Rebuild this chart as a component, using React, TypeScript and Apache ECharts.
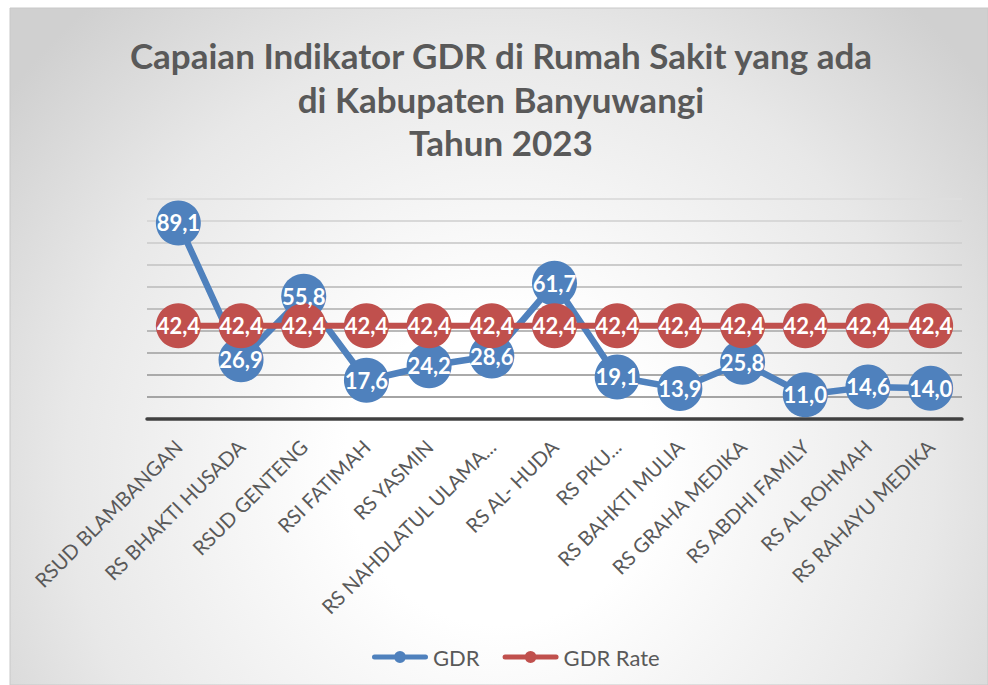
import React, { useEffect, useRef } from "react";
import * as echarts from "echarts";

const categories = [
  "RSUD BLAMBANGAN",
  "RS BHAKTI HUSADA",
  "RSUD GENTENG",
  "RSI FATIMAH",
  "RS YASMIN",
  "RS NAHDLATUL ULAMA...",
  "RS AL- HUDA",
  "RS PKU...",
  "RS BAHKTI MULIA",
  "RS GRAHA MEDIKA",
  "RS ABDHI FAMILY",
  "RS AL ROHMAH",
  "RS RAHAYU MEDIKA",
];
const gdr = [89.1, 26.9, 55.8, 17.6, 24.2, 28.6, 61.7, 19.1, 13.9, 25.8, 11.0, 14.6, 14.0];
const gdrRate = [42.4, 42.4, 42.4, 42.4, 42.4, 42.4, 42.4, 42.4, 42.4, 42.4, 42.4, 42.4, 42.4];
const titleLines = ["Capaian Indikator GDR di Rumah Sakit yang ada", "di Kabupaten Banyuwangi", "Tahun 2023"];

const FONT = "Lato, 'Open Sans', sans-serif";
const fmt = (p: any) => Number(p.value).toFixed(1).replace(".", ",");
const LEGEND_ICON =
  "path://M2.5,3.5 L53.5,3.5 A2.5,2.5 0 0,1 53.5,8.5 L2.5,8.5 A2.5,2.5 0 0,1 2.5,3.5 Z M22,6 A6,6 0 1,1 34,6 A6,6 0 1,1 22,6 Z";

export default function App() {
  const ref = useRef<HTMLDivElement>(null);
  useEffect(() => {
    if (!ref.current) return;
    const chart = echarts.init(ref.current, null, { renderer: "svg" });
    const label = {
      show: true,
      position: "inside",
      color: "#ffffff",
      fontFamily: FONT,
      fontWeight: "bold",
      fontSize: 22,
      formatter: fmt,
    };
    chart.setOption({
      animation: false,
      graphic: [
        {
          type: "rect",
          z: -100,
          silent: true,
          shape: { x: 10, y: 8, width: 978, height: 677 },
          style: {
            fill: {
              type: "radial",
              x: 500,
              y: 470,
              r: 620,
              global: true,
              colorStops: [
                { offset: 0, color: "#ffffff" },
                { offset: 0.25, color: "#ffffff" },
                { offset: 0.7, color: "#e8e8e8" },
                { offset: 1, color: "#d0d0d0" },
              ],
            },
            stroke: "#c8c8c8",
            lineWidth: 1,
          },
        },
        {
          type: "text",
          x: 501,
          y: 98.5,
          silent: true,
          style: {
            text: titleLines.join("\n"),
            fill: "#595959",
            fontFamily: FONT,
            fontWeight: "bold",
            fontSize: 35,
            lineHeight: 43.5,
            align: "center",
            verticalAlign: "middle",
          },
        },
      ],
      legend: {
        left: 367,
        top: 641,
        itemWidth: 56,
        itemHeight: 12,
        itemGap: 23,
        icon: LEGEND_ICON,
        textStyle: { color: "#595959", fontFamily: FONT, fontSize: 22 },
        data: ["GDR", "GDR Rate"],
      },
      grid: { left: 147, right: 26, top: 199, bottom: 266, containLabel: false },
      xAxis: {
        type: "category",
        data: categories,
        boundaryGap: true,
        axisLine: { show: true, lineStyle: { color: "#404040", width: 3.5 } },
        axisTick: { show: false },
        axisLabel: {
          rotate: 45,
          interval: 0,
          margin: 24,
          color: "#595959",
          fontFamily: FONT,
          fontSize: 20,
        },
      },
      yAxis: {
        type: "value",
        min: 0,
        max: 100,
        interval: 10,
        axisLabel: { show: false },
        axisLine: { show: false },
        axisTick: { show: false },
        splitLine: {
          show: true,
          lineStyle: {
            width: 2,
            color: [
              "#a0a0a0",
              "#a4a4a4",
              "#aaaaaa",
              "#b2b2b2",
              "#b9b9b9",
              "#c0c0c0",
              "#c6c6c6",
              "#cccccc",
              "#d2d2d2",
              "#d8d8d8",
              "#dedede",
            ],
          },
        },
      },
      series: [
        {
          name: "GDR",
          type: "line",
          data: gdr,
          symbol: "circle",
          symbolSize: 45,
          showAllSymbol: true,
          itemStyle: { color: "#4f81bd" },
          lineStyle: { color: "#4f81bd", width: 6.5 },
          label,
        },
        {
          name: "GDR Rate",
          type: "line",
          data: gdrRate,
          symbol: "circle",
          symbolSize: 45,
          showAllSymbol: true,
          itemStyle: { color: "#c0504d" },
          lineStyle: { color: "#c0504d", width: 6 },
          label,
        },
      ],
    });
    return () => chart.dispose();
  }, []);
  return (
    <div
      ref={ref}
      style={{ position: "absolute", left: 0, top: 0, width: 988, height: 685 }}
    />
  );
}
